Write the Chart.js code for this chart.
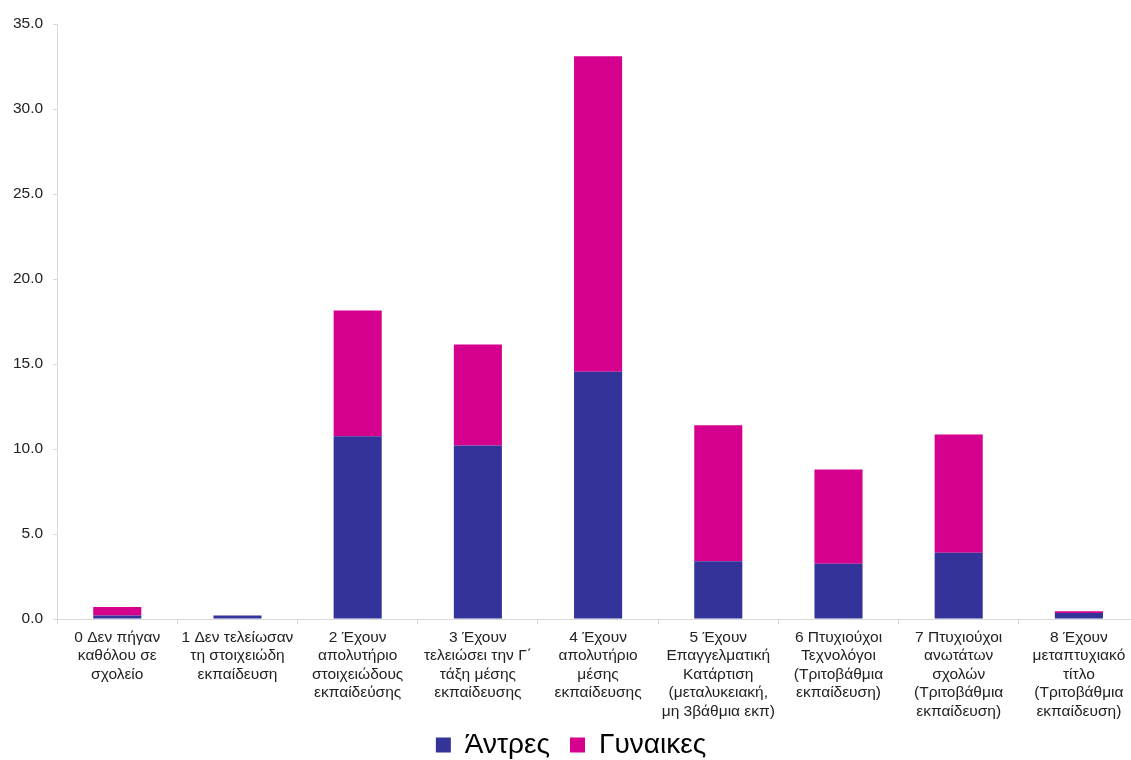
<!DOCTYPE html>
<html>
<head>
<meta charset="utf-8">
<script src="https://cdn.jsdelivr.net/npm/chart.js@4/dist/chart.umd.min.js"></script>
<style>
html,body{margin:0;padding:0;overflow:hidden;background:#fff;width:1131px;height:760px;}
canvas{display:block;}
</style>
</head>
<body>
<canvas id="c" width="1150" height="760" style="width:1150px;height:760px"></canvas>
<script>
const categories = [
  ["0 Δεν πήγαν","καθόλου σε","σχολείο"],
  ["1 Δεν τελείωσαν","τη στοιχειώδη","εκπαίδευση"],
  ["2 Έχουν","απολυτήριο","στοιχειώδους","εκπαίδεύσης"],
  ["3 Έχουν","τελειώσει την Γ΄","τάξη μέσης","εκπαίδευσης"],
  ["4 Έχουν","απολυτήριο","μέσης","εκπαίδευσης"],
  ["5 Έχουν","Επαγγελματική","Κατάρτιση","(μεταλυκειακή,","μη 3βάθμια εκπ)"],
  ["6 Πτυχιούχοι","Τεχνολόγοι","(Τριτοβάθμια","εκπαίδευση)"],
  ["7 Πτυχιούχοι","ανωτάτων","σχολών","(Τριτοβάθμια","εκπαίδευση)"],
  ["8 Έχουν","μεταπτυχιακό","τίτλο","(Τριτοβάθμια","εκπαίδευση)"]
];
const men   = [0.2, 0.2, 10.75, 10.2, 14.55, 3.4, 3.25, 3.9, 0.35];
const women = [0.5, 0.0, 7.4, 5.95, 18.55, 8.0, 5.55, 6.95, 0.1];
const seriesNames = ["Άντρες", "Γυναικες"];
const yTicks = [0, 5, 10, 15, 20, 25, 30, 35];

const FONT = "'Liberation Sans', Arial, sans-serif";

const legendTweak = {
  id: 'legendTweak',
  afterInit(chart) {
    const lg = chart.legend;
    const f = lg.fit;
    lg.fit = function () { f.call(this); this.height = 35; };
  },
  afterLayout(chart) {
    chart.legend.top = 711;
  }
};

new Chart(document.getElementById('c'), {
  type: 'bar',
  data: {
    labels: categories,
    datasets: [
      {label: seriesNames[0], data: men, backgroundColor: '#333399', barPercentage: 0.4, categoryPercentage: 1.0},
      {label: seriesNames[1], data: women, backgroundColor: '#D6008F', barPercentage: 0.4, categoryPercentage: 1.0}
    ]
  },
  plugins: [legendTweak],
  options: {
    responsive: false,
    animation: false,
    layout: {padding: {left: 3, right: 11, top: 24, bottom: 0}},
    plugins: {
      tooltip: {enabled: false},
      legend: {
        position: 'bottom',
        labels: {
          font: {family: FONT, size: 28},
          color: '#000',
          boxWidth: 15, boxHeight: 15,
          padding: 20
        }
      }
    },
    scales: {
      x: {
        stacked: true,
        border: {display: true, color: '#d9d9d9', width: 1},
        grid: {display: true, drawOnChartArea: false, drawTicks: true, tickLength: 5, color: '#d9d9d9', offset: true},
        ticks: {font: {family: FONT, size: 15.5}, color: '#222', maxRotation: 0, minRotation: 0, autoSkip: false, padding: 4}
      },
      y: {
        stacked: true,
        min: 0, max: 35,
        afterBuildTicks: (s) => { s.ticks = yTicks.map(v => ({value: v})); },
        border: {display: true, color: '#d9d9d9', width: 1},
        grid: {display: true, drawOnChartArea: false, drawTicks: true, tickLength: 4, color: '#d9d9d9'},
        ticks: {font: {family: FONT, size: 15.5}, color: '#222', padding: 10, callback: v => Number(v).toFixed(1)}
      }
    }
  }
});
</script>
</body>
</html>
